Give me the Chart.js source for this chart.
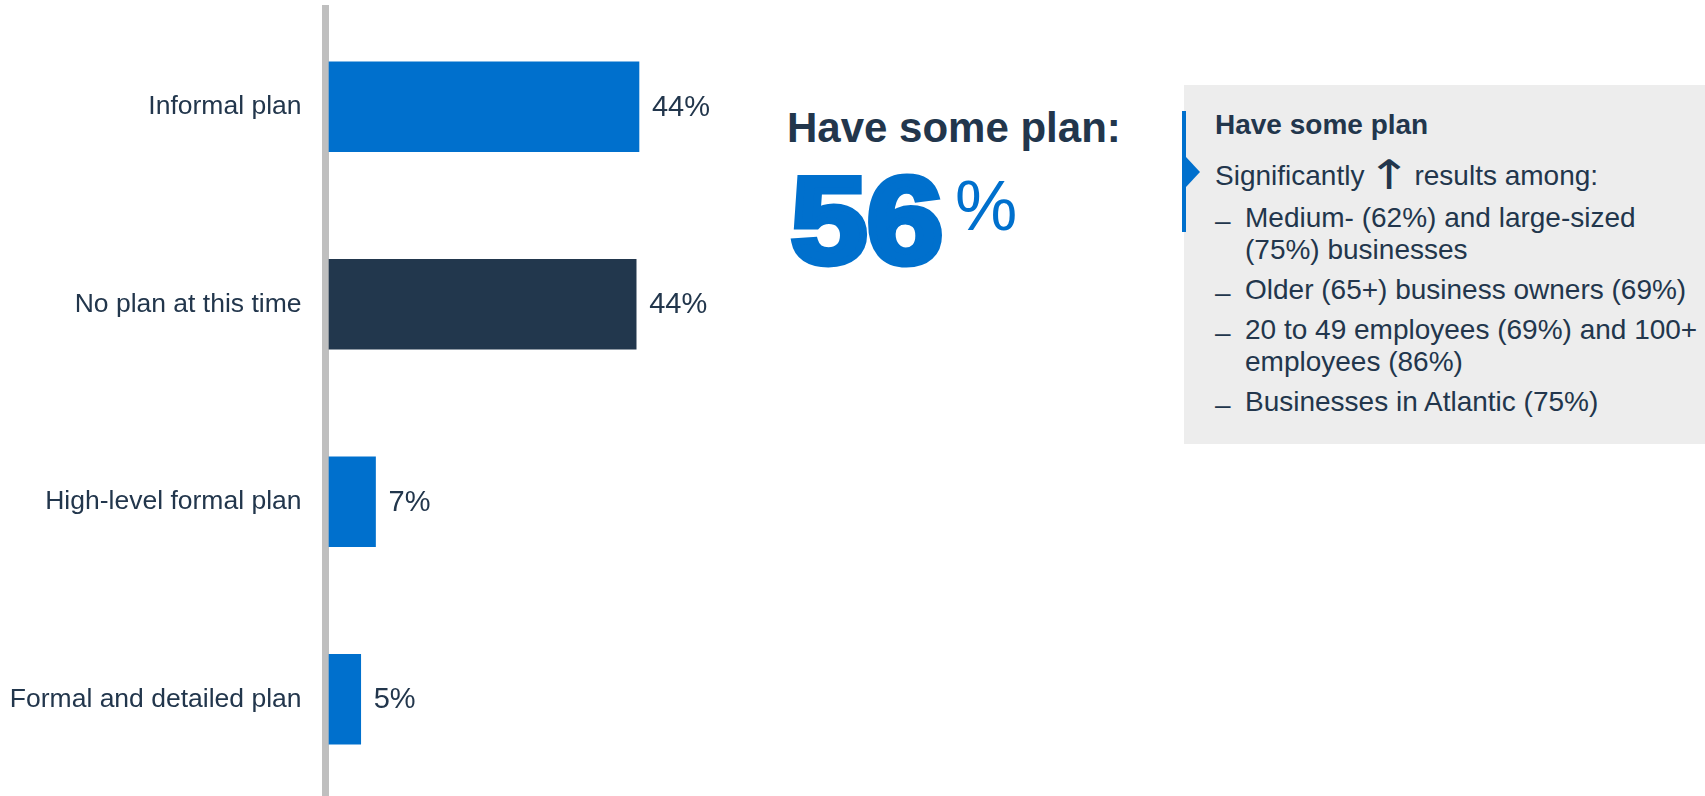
<!DOCTYPE html>
<html>
<head>
<meta charset="utf-8">
<script src="https://cdn.jsdelivr.net/npm/chart.js@4/dist/chart.umd.min.js"></script>
<style>
  html, body { margin: 0; padding: 0; background: #fff; overflow: hidden; }
  body { width: 1705px; height: 796px; position: relative; font-family: "Liberation Sans", Arial, sans-serif; color: #22364c; }
  #chart-wrap { position: absolute; left: 0; top: 0; width: 760px; height: 798px; }
  .abs { position: absolute; white-space: nowrap; }
  .headline { left: 787px; top: 107px; font-size: 42px; font-weight: bold; line-height: 1; }
  .big { left: 791px; top: 160px; font-size: 122px; font-weight: bold; line-height: 1; color: #0070cd;
         -webkit-text-stroke: 7px #0070cd; transform: scaleX(1.12); transform-origin: left top; }
  .pct { left: 955px; top: 171px; font-size: 70px; line-height: 1; color: #0070cd; }
  .box { position: absolute; left: 1184px; top: 85px; width: 521px; height: 359px; background: #ededed; }
  .box-bar { position: absolute; left: 1182px; top: 111px; width: 4px; height: 121px; background: #0070cd; }
  .box-arrow { position: absolute; left: 1186px; top: 157px; width: 0; height: 0;
               border-top: 15px solid transparent; border-bottom: 15px solid transparent; border-left: 14px solid #0070cd; }
  .txt { position: absolute; left: 1215px; font-size: 28px; line-height: 32px; white-space: nowrap; }
  .txt.b { font-weight: bold; }
  .up { display: inline-block; font-family: "DejaVu Sans", sans-serif; font-size: 28px; line-height: 0;
        margin: 0 6px 0 5px; transform: scale(1.9, 1.45); transform-origin: center bottom; }
  .item { position: absolute; left: 1215px; font-size: 28px; line-height: 32px; white-space: nowrap; }
  .item .dash { position: absolute; left: 0; top: 3px; }
  .item .body { position: absolute; left: 30px; top: 0; }
</style>
</head>
<body>
<div id="chart-wrap"><canvas id="plan-chart"></canvas></div>

<div class="abs headline">Have some plan:</div>
<div class="abs big">56</div>
<div class="abs pct">%</div>

<div class="box"></div>
<div class="box-bar"></div>
<div class="box-arrow"></div>
<div class="txt b" style="top:109px">Have some plan</div>
<div class="txt" style="top:160px">Significantly <span class="up">↑</span> results among:</div>
<div class="item" style="top:202px"><span class="dash">–</span><span class="body">Medium- (62%) and large-sized<br>(75%) businesses</span></div>
<div class="item" style="top:274px"><span class="dash">–</span><span class="body">Older (65+) business owners (69%)</span></div>
<div class="item" style="top:314px"><span class="dash">–</span><span class="body">20 to 49 employees (69%) and 100+<br>employees (86%)</span></div>
<div class="item" style="top:386px"><span class="dash">–</span><span class="body">Businesses in Atlantic (75%)</span></div>

<script>
const CATEGORIES = ["Informal plan", "No plan at this time", "High-level formal plan", "Formal and detailed plan"];
const VALUES = [44, 43.6, 6.6, 4.5];
const BAR_COLORS = ["#0070cd", "#22374d", "#0070cd", "#0070cd"];

const TEXT_COLOR = "#22364c";
const FONT_FAMILY = "'Liberation Sans', Arial, sans-serif";

// value labels to the right of each bar
const barLabels = {
  id: "barLabels",
  afterDatasetsDraw(chart) {
    const { ctx } = chart;
    const meta = chart.getDatasetMeta(0);
    ctx.save();
    ctx.font = `29px ${FONT_FAMILY}`;
    ctx.fillStyle = TEXT_COLOR;
    ctx.textAlign = "left";
    ctx.textBaseline = "middle";
    meta.data.forEach((bar, i) => {
      ctx.fillText(Math.round(VALUES[i]) + "%", bar.x + 13, bar.y + 1);
    });
    ctx.restore();
  },
};

new Chart(document.getElementById("plan-chart"), {
  type: "bar",
  data: {
    labels: CATEGORIES,
    datasets: [{
      data: VALUES,
      backgroundColor: BAR_COLORS,
      borderWidth: 0,
      barThickness: 90,
    }],
  },
  options: {
    indexAxis: "y",
    responsive: true,
    maintainAspectRatio: false,
    animation: false,
    events: [],
    layout: { padding: { top: 8, bottom: 0, left: 0, right: 8.3 } },
    plugins: { legend: { display: false }, tooltip: { enabled: false } },
    scales: {
      x: { display: false, min: -0.5, max: 60 },
      y: {
        grid: { display: false, drawTicks: false },
        border: { display: true, color: "#bfbfbf", width: 7 },
        ticks: { color: TEXT_COLOR, padding: 24, font: { size: 26.5, family: FONT_FAMILY } },
        afterFit(scale) {
          scale.width = 325.5;
          scale.paddingTop = 0;
          scale.paddingBottom = 0;
        },
      },
    },
  },
  plugins: [barLabels],
});
</script>
</body>
</html>
